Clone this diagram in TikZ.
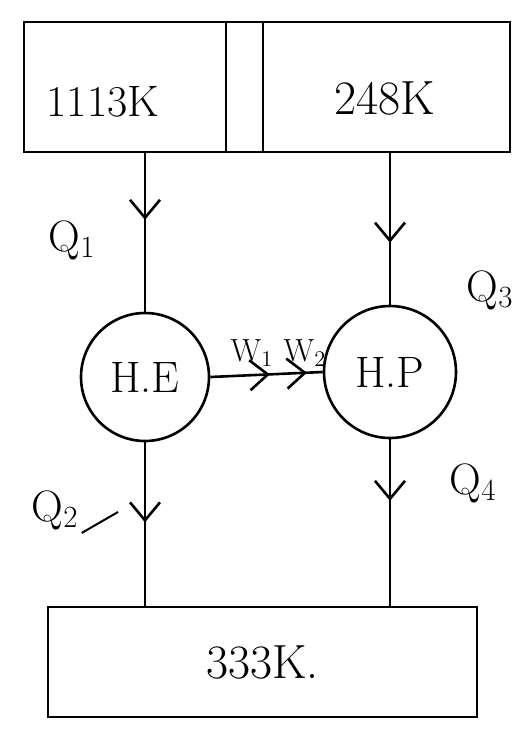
\documentclass[tikz,border=0pt]{standalone}
\usepackage{fontspec}
\usetikzlibrary{arrows.meta,decorations.markings}

\begin{document}
\begin{tikzpicture}[x=0.5pt,y=-0.5pt,line width=1.3pt,
  >={Straight Barb[length=9pt,width=15pt]},
  res/.style={draw,rectangle,inner sep=0pt},
  dev/.style={draw,circle,inner sep=0pt,font=\fontsize{22}{26}\selectfont},
  lab/.style={inner sep=1pt,font=\fontsize{22}{26}\selectfont},
  wlab/.style={inner sep=1pt,font=\fontsize{16}{19}\selectfont},
  flowat/.style={postaction={decorate},
    decoration={markings,mark=at position #1 with {\arrow{>}}}},
  twoflow/.style={postaction={decorate},
    decoration={markings,mark=at position 0.53 with {\arrow{>}},
      mark=at position 0.86 with {\arrow{>}}}}]
\useasboundingbox (0,0) rectangle (519,735);
% reservoirs
\node[res,minimum width=101pt,minimum height=65pt] (hotres) at (125,87) {};
\node[res,minimum width=18.5pt,minimum height=65pt] (midres) at (244.5,87) {};
\node[res,minimum width=123.5pt,minimum height=65pt] (lowres) at (386.5,87) {};
\node[lab] (hottxt) at (103,102) {1113K};
\node[lab,font=\fontsize{24}{28}\selectfont] (lowtxt) at (385,98) {248K};
\node[res,minimum width=214.5pt,minimum height=55pt,font=\fontsize{24}{28}\selectfont] (sink) at (262.5,662) {333K.};
% engine and pump
\node[dev,minimum size=64pt] (he) at (145,377) {H.E};
\node[dev,minimum size=66pt] (hp) at (390,372) {H.P};
% heat flows
\draw[flowat=0.42] (hotres.south -| he) -- (he.north);
\draw[flowat=0.59] (lowres.south -| hp) -- (hp.north);
\draw[flowat=0.49] (he.south) -- (he.south |- sink.north);
\draw[flowat=0.37] (hp.south) -- (hp.south |- sink.north);
\draw[twoflow] (he.east) -- (hp.west);
\node[lab] (q1) at (72,240) {Q\textsubscript{1}};
\node[lab] (q3) at (490,290) {Q\textsubscript{3}};
\node[lab] (q2) at (55,510) {Q\textsubscript{2}};
\node[lab] (q4) at (473,483) {Q\textsubscript{4}};
\node[wlab] (w1) at (252,353) {W\textsubscript{1}};
\node[wlab] (w2) at (305,353) {W\textsubscript{2}};
\coordinate (q2end) at (118,512);
\draw[line width=1pt] (q2.south east) -- (q2end);
\end{tikzpicture}
\end{document}
